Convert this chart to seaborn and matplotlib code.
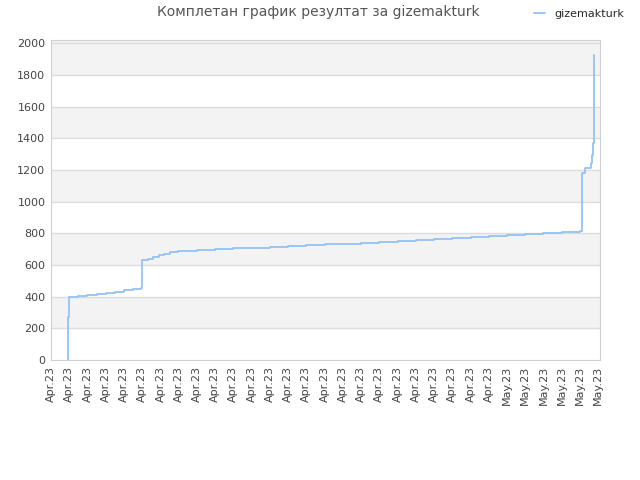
import matplotlib
matplotlib.use('Agg')
import matplotlib.pyplot as plt
import seaborn as sns

# data (x in tick positions)
player = 'gizemakturk'
title = 'Комплетан график резултат за gizemakturk'
tick_labels = ['Apr.23'] * 25 + ['May.23'] * 6
x_pos = [0.93, 0.95, 1.0, 1.5, 2.0, 2.5, 3.0, 3.5, 4.0, 4.5, 4.93, 5.0,
         5.3, 5.6, 5.9, 6.2, 6.5, 6.96, 8, 9, 10, 11, 12, 13, 14, 15, 16,
         17, 18, 19, 20, 21, 22, 23, 24, 25, 26, 27, 28, 29, 29.1, 29.3,
         29.6, 29.65, 29.72, 29.75]
score = [0, 270, 400, 405, 412, 418, 425, 432, 440, 447, 455, 630,
         640, 650, 660, 670, 680, 690, 695, 700, 705, 710, 715, 720, 725,
         730, 735, 740, 746, 752, 758, 764, 770, 776, 782, 788, 794, 800,
         806, 812, 1180, 1210, 1245, 1293, 1369, 1924]

sns.set_style('white')
plt.rcParams['font.family'] = ['DejaVu Sans']

fig = plt.figure(figsize=(6.4, 4.8), dpi=100)
ax = fig.add_axes([51/640, 1 - 360/480, 549/640, 320/480])

for lo in range(200, 2000, 400):
    ax.axhspan(lo, lo + 200, color='#f3f3f3', zorder=0, lw=0)
ax.axhspan(1800, 2100, color='#f3f3f3', zorder=0, lw=0)
for v in range(200, 2001, 200):
    ax.axhline(v, color='#dcdcdc', lw=1, zorder=1)

sns.lineplot(x=x_pos, y=score, estimator=None, sort=False, ax=ax,
             drawstyle='steps-post', color='#92c3f2', lw=1.3,
             label=player, legend=False, zorder=3)

ax.set_xlim(0, 30.1)
ax.set_ylim(0, 2020)
ax.set_yticks(range(0, 2001, 200))
ax.set_xticks(range(len(tick_labels)))
ax.set_xticklabels(tick_labels, rotation=90)
ax.tick_params(axis='both', length=0, labelsize=8, colors='#444444', pad=4)
ax.set_xlabel('')
ax.set_ylabel('')
for s in ax.spines.values():
    s.set_color('#d0d0d0')

fig.text(318/640, 1 - 12/480, title, ha='center', va='center',
         fontsize=10, color='#555555')
fig.legend(*ax.get_legend_handles_labels(), loc='center right',
           bbox_to_anchor=(1 - 8/640, 1 - 14/480), frameon=False,
           fontsize=8, handlelength=1.0, borderaxespad=0.3)

fig.savefig('out.png', dpi=100)
